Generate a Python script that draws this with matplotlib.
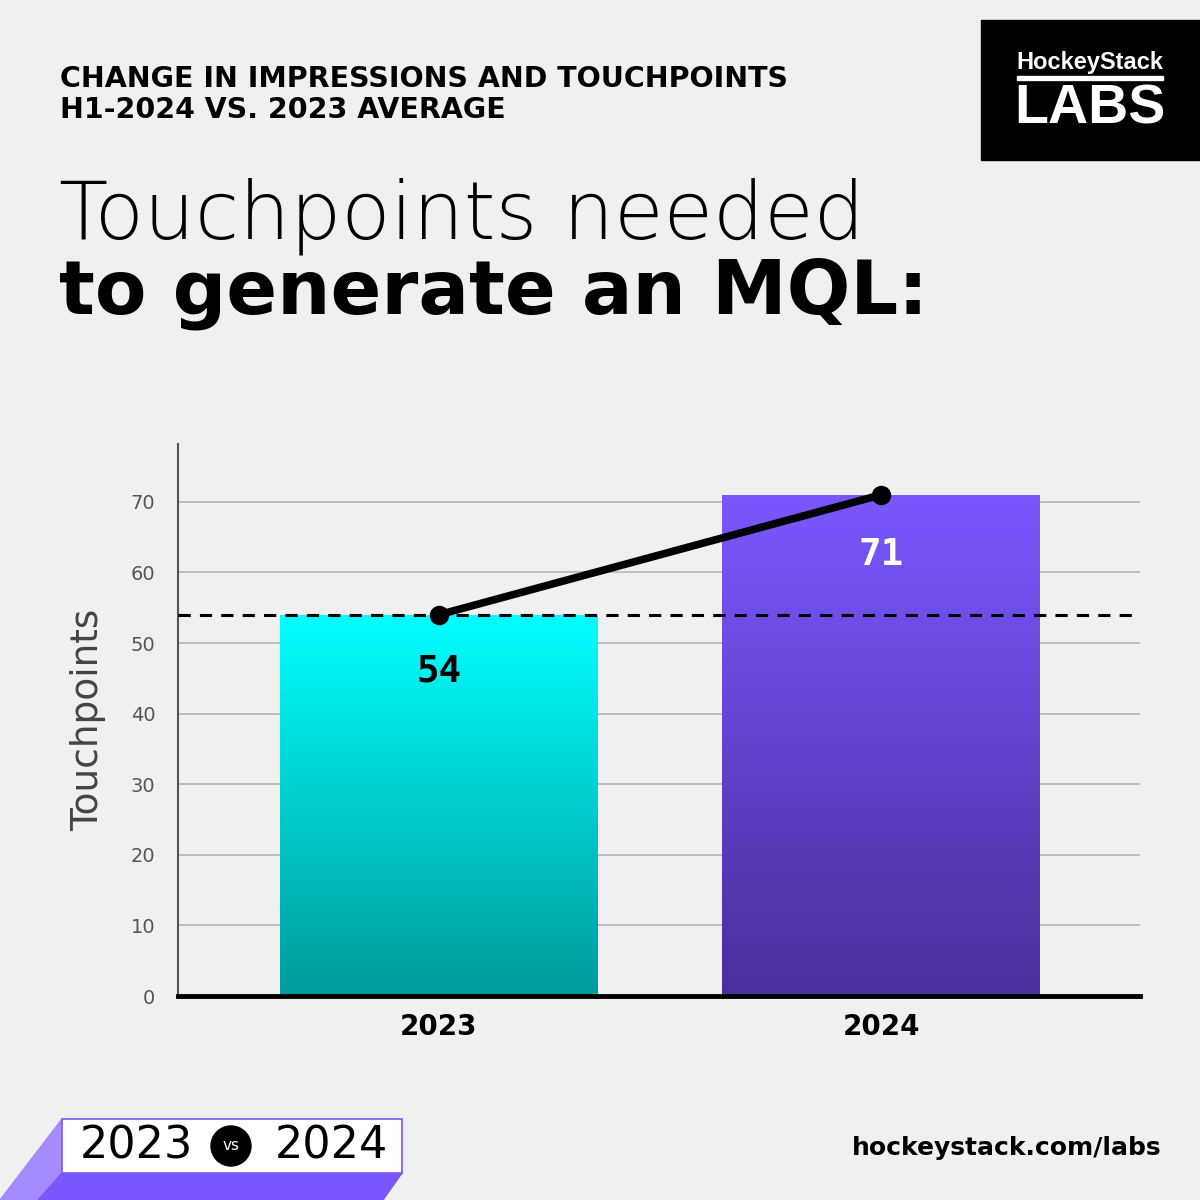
import numpy as np
import matplotlib.pyplot as plt
from matplotlib.colors import LinearSegmentedColormap
from matplotlib.patches import Rectangle, Polygon, Circle

years = ["2023", "2024"]
touchpoints = [54, 71]
baseline = 54
y_ticks = [0, 10, 20, 30, 40, 50, 60, 70]
bar_top_colors = ["#00FFFF", "#7B57FF"]
bar_bottom_colors = ["#009B9B", "#4A2F9C"]
label_colors = ["black", "white"]

BG = "#F0F0F0"
fig = plt.figure(figsize=(12, 12), dpi=100, facecolor=BG)

# --- header text ---
fig.text(0.05, 0.934, "CHANGE IN IMPRESSIONS AND TOUCHPOINTS", fontsize=20.5,
         fontweight="bold", family="DejaVu Sans", va="center", ha="left")
fig.text(0.05, 0.908, "H1-2024 VS. 2023 AVERAGE", fontsize=20.5,
         fontweight="bold", family="DejaVu Sans", va="center", ha="left")
fig.text(0.049, 0.820, "Touchpoints needed", fontsize=58, fontweight="light",
         family="DejaVu Sans", va="center", ha="left")
fig.text(0.049, 0.755, "to generate an MQL:", fontsize=54, fontweight="bold",
         family="DejaVu Sans", va="center", ha="left")

# --- logo box ---
fig.patches.append(Rectangle((981 / 1200, 1 - 160 / 1200), 219 / 1200, 140 / 1200,
                             transform=fig.transFigure, color="black", zorder=1))
fig.text(1090 / 1200, 1 - 62 / 1200, "HockeyStack", color="white", fontsize=17,
         fontweight="bold", family="Liberation Sans", ha="center", va="center")
fig.patches.append(Rectangle((1017 / 1200, 1 - 80 / 1200), 146 / 1200, 4 / 1200,
                             transform=fig.transFigure, color="white", zorder=2))
fig.text(1090 / 1200, 1 - 110 / 1200, "LABS", color="white", fontsize=40,
         fontweight="bold", family="Liberation Sans", ha="center", va="center")

# --- chart ---
ax = fig.add_axes([0.148, 0.170, 0.802, 0.460])
ax.set_facecolor(BG)
x = np.arange(len(years))
bars = ax.bar(x, touchpoints, width=0.718, color="none", zorder=2)

for bar, c_top, c_bot in zip(bars, bar_top_colors, bar_bottom_colors):
    cmap = LinearSegmentedColormap.from_list("g", [c_bot, c_top])
    bx, by = bar.get_x(), bar.get_y()
    bw, bh = bar.get_width(), bar.get_height()
    grad = np.linspace(0, 1, 256).reshape(-1, 1)
    im = ax.imshow(grad, cmap=cmap, origin="lower", aspect="auto",
                   extent=[bx, bx + bw, by, by + bh], zorder=2)
    im.set_clip_path(bar)
ax.set_xlim(-0.59, 1.585)
ax.set_ylim(0, 78.2)

ax.set_yticks(y_ticks)
ax.yaxis.grid(True, color="#B5B5B5", linewidth=1.2, zorder=1)
ax.set_axisbelow(True)
ax.tick_params(axis="y", length=0, pad=16, labelsize=14, labelcolor="#555555")
ax.tick_params(axis="x", length=0, pad=12, labelsize=20)
ax.set_xticks(x)
ax.set_xticklabels(years, fontweight="bold")

ax.axhline(baseline, color="black", linestyle=(0, (4, 3)), linewidth=2.2, zorder=3)
ax.plot(x, touchpoints, color="black", linewidth=5.5, marker="o",
        markersize=13, zorder=4)

for xi, v, col, off in zip(x, touchpoints, label_colors, [-8.0, -8.5]):
    ax.text(xi, v + off, str(v), color=col, fontsize=27, fontweight="bold",
            family="DejaVu Sans Mono", ha="center", va="center", zorder=5)

for side in ["top", "right"]:
    ax.spines[side].set_visible(False)
ax.spines["left"].set_color("#555555")
ax.spines["left"].set_linewidth(1.5)
ax.spines["bottom"].set_color("black")
ax.spines["bottom"].set_linewidth(3.5)
ax.set_ylabel("Touchpoints", fontsize=27, color="#444444", labelpad=18)

# --- bottom badge ---
def fpt(px, py):
    return (px / 1200, 1 - py / 1200)

fig.patches.append(Polygon([fpt(62, 1119), fpt(0, 1200), fpt(38, 1200), fpt(62, 1173)],
                           closed=True, transform=fig.transFigure, color="#A48BFF", zorder=1))
fig.patches.append(Polygon([fpt(62, 1173), fpt(402, 1173), fpt(383, 1200), fpt(38, 1200)],
                           closed=True, transform=fig.transFigure, color="#7B57FF", zorder=1))
fig.patches.append(Rectangle(fpt(62, 1173), 340 / 1200, 54 / 1200, transform=fig.transFigure,
                             facecolor="white", edgecolor="#7B57FF", linewidth=1.2, zorder=2))
fig.text(136 / 1200, 1 - 1146 / 1200, "2023", fontsize=32, family="DejaVu Sans",
         ha="center", va="center", zorder=3)
fig.text(331 / 1200, 1 - 1146 / 1200, "2024", fontsize=32, family="DejaVu Sans",
         ha="center", va="center", zorder=3)
fig.patches.append(Circle(fpt(231, 1146), 20 / 1200, transform=fig.transFigure,
                          color="black", zorder=3))
fig.text(231 / 1200, 1 - 1146 / 1200, "vs", fontsize=11, color="white",
         family="DejaVu Sans", ha="center", va="center", zorder=4)

fig.text(1162 / 1200, 1 - 1148 / 1200, "hockeystack.com/labs", fontsize=18,
         fontweight="bold", family="DejaVu Sans", ha="right", va="center")

fig.savefig("out.png", dpi=100, facecolor=BG)
